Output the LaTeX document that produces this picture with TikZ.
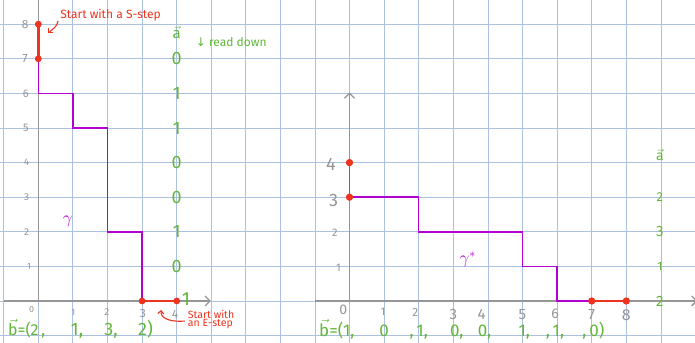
\documentclass[tikz,border=0pt]{standalone}
\usepackage{amsmath}
\usepackage{fontspec}
\setmainfont{Fira Sans}
\newfontfamily\symfont{DejaVu Sans}
\usetikzlibrary{arrows.meta}
\definecolor{gridblue}{RGB}{172,192,224}
\definecolor{axisgray}{RGB}{150,150,150}
\definecolor{pathpurple}{RGB}{178,0,210}
\definecolor{stepred}{RGB}{238,52,32}
\definecolor{labgreen}{RGB}{98,182,58}
\newcommand{\fs}[1]{\fontsize{#1}{#1}\selectfont}
\newcommand{\vecover}[1]{$\vec{\text{#1}}$}
\begin{document}
\begin{tikzpicture}[x=34.6pt,y=34.6pt,
  gridline/.style={gridblue,line width=0.9pt},
  axisline/.style={axisgray,line width=1.3pt},
  axisarrow/.style={axisline,-{Straight Barb[length=5pt,width=10pt,line width=1.3pt]}},
  lattice/.style={pathpurple,line width=1.6pt},
  redstep/.style={stepred,line width=1.6pt},
  dot/.style={circle,fill=stepred,inner sep=0pt,minimum size=7pt},
  ticklab/.style={text=axisgray,inner sep=0pt},
  greenlab/.style={text=labgreen,inner sep=0pt},
  redlab/.style={text=stepred,inner sep=0pt},
  redarrow/.style={stepred,line width=1.1pt,-{Straight Barb[length=3pt,width=6pt]}},
  gammalab/.style={text=pathpurple,inner sep=0pt}]
\useasboundingbox (0,0) rectangle (20.087,9.913);
\fill[white] (0,0) rectangle (20.087,9.913);
% grid paper
\foreach \k in {0,...,19} \draw[gridline] (0.107+\k,0) -- (0.107+\k,9.913);
\foreach \j in {0,...,9} \draw[gridline] (0,0.214+\j) -- (20.087,0.214+\j);

% ---------------- left picture ----------------
\begin{scope}[shift={(1.107,1.214)}]
  \coordinate (Lo) at (0,0);
  \coordinate (Lytop) at (0,8.75);
  \coordinate (Lxs) at (-1.0,0);
  \coordinate (Lxe) at (4.99,0);
  \draw[axisline] (Lo) -- (Lytop);
  \draw[axisarrow] (Lxs) -- (Lxe);
  % y ticks
  \node[ticklab,font=\fs{12}] (ly8) at (-0.38,8) {8};
  \node[ticklab,font=\fs{12}] (ly7) at (-0.38,7) {7};
  \node[ticklab,font=\fs{11}] (ly6) at (-0.36,6) {6};
  \node[ticklab,font=\fs{11}] (ly5) at (-0.36,5) {5};
  \node[ticklab,font=\fs{10}] (ly4) at (-0.34,4) {4};
  \node[ticklab,font=\fs{10}] (ly3) at (-0.34,3) {3};
  \node[ticklab,font=\fs{10}] (ly2) at (-0.34,2) {2};
  \node[ticklab,font=\fs{9}] (ly1) at (-0.27,1.0) {1};
  % x ticks
  \node[ticklab,font=\fs{9}] (lx0) at (-0.19,-0.24) {0};
  \node[ticklab,font=\fs{9}] (lx1) at (1.01,-0.32) {1};
  \node[ticklab,font=\fs{10}] (lx2) at (1.98,-0.32) {2};
  \node[ticklab,font=\fs{12}] (lx3) at (3.02,-0.36) {3};
  \node[ticklab,font=\fs{12}] (lx4) at (3.95,-0.38) {4};
  % dots
  \node[dot,minimum size=6.5pt] (d08) at (0,8) {};
  \node[dot,minimum size=6.5pt] (d07) at (0,7) {};
  \node[dot,minimum size=6.5pt] (d30) at (3,0) {};
  \node[dot,minimum size=6.5pt] (d40) at (4,0) {};
  \coordinate (p16) at (1,6);
  \coordinate (p25) at (2,5);
  \coordinate (p32) at (3,2);
  \draw[lattice] (d07.center) |- (p16) |- (p25) |- (p32) -- (d30.center);
  \draw[redstep,line width=2.6pt] (d07.center) -- (d08.center);
  \draw[redstep,line width=1.4pt] (d30.center) -- (d40.center);
  \node[dot,minimum size=6.5pt] at (d08) {};
  \node[dot,minimum size=6.5pt] at (d07) {};
  \node[dot,minimum size=6.5pt] at (d30) {};
  \node[dot,minimum size=6.5pt] at (d40) {};
  % gamma
  \node[gammalab,font=\fs{17}] (gam) at (0.85,2.3) {$\gamma$};
  % vector a
  \node[greenlab,font=\fs{15}] (la) at (4,7.76) {\vecover{a}};
  \node[greenlab,font=\fs{18}] (la7) at (4,7) {0};
  \node[greenlab,font=\fs{18}] (la6) at (4,6) {1};
  \node[greenlab,font=\fs{18}] (la5) at (4,5) {1};
  \node[greenlab,font=\fs{18}] (la4) at (4,4) {0};
  \node[greenlab,font=\fs{18}] (la3) at (4,3) {0};
  \node[greenlab,font=\fs{18}] (la2) at (4,2) {1};
  \node[greenlab,font=\fs{18}] (la1) at (4,1) {0};
  \node[greenlab,font=\fs{19}] (la0) at (4.27,0.06) {1};
  \node[greenlab,font=\fs{12},anchor=west] (rd) at (4.55,7.47) {{\symfont ↓} read down};
  % vector b
  \node[greenlab,font=\fs{16},anchor=base west] (lb0) at (-0.88,-1.0) {\vecover{b}=(2\,,};
  \node[greenlab,font=\fs{18},anchor=base] (lb1) at (1.12,-1.0) {1,};
  \node[greenlab,font=\fs{18},anchor=base] (lb2) at (2.1,-1.0) {3,};
  \node[greenlab,font=\fs{18},anchor=base] (lb3) at (3.1,-1.0) {2)};
  % notes
  \node[redlab,font=\fs{12},anchor=west] (snote) at (0.63,8.27) {Start with a S-step};
  \draw[redarrow] ([shift={(-2pt,0pt)}]snote.south west) to[out=-100,in=45] ([shift={(10pt,-9pt)}]d08.center);
  \node[redlab,font=\fs{10.5},align=left,anchor=north west,text depth=0pt] (enote) at (4.32,-0.26) {Start with\\[-2pt]an E-step};
  \draw[redarrow] ([shift={(-3pt,6pt)}]enote.south west) to[out=185,in=-95] ([shift={(19pt,-9pt)}]d30.center);
\end{scope}

% ---------------- right picture ----------------
\begin{scope}[shift={(10.101,1.214)}]
  \coordinate (Ro) at (0,0);
  \coordinate (Rytop) at (0,6.03);
  \coordinate (Rxs) at (-1.0,0);
  \coordinate (Rxe) at (10.06,0);
  \draw[axisarrow] (Ro) -- (Rytop);
  \draw[axisarrow] (Rxs) -- (Rxe);
  % y ticks
  \node[ticklab,font=\fs{18}] (ry4) at (-0.54,3.95) {4};
  \node[ticklab,font=\fs{18}] (ry3) at (-0.46,2.9) {3};
  \node[ticklab,font=\fs{11}] (ry2) at (-0.42,1.97) {2};
  \node[ticklab,font=\fs{11}] (ry1) at (-0.32,0.95) {1};
  % x ticks
  \node[ticklab,font=\fs{14}] (rx0) at (-0.18,-0.27) {0};
  \node[ticklab,font=\fs{11}] (rx1) at (0.97,-0.32) {1};
  \node[ticklab,font=\fs{12}] (rx2) at (1.9,-0.34) {2};
  \node[ticklab,font=\fs{15}] (rx3) at (3.0,-0.40) {3};
  \node[ticklab,font=\fs{15}] (rx4) at (3.82,-0.38) {4};
  \node[ticklab,font=\fs{15}] (rx5) at (5.0,-0.40) {5};
  \node[ticklab,font=\fs{14}] (rx6) at (5.94,-0.38) {6};
  \node[ticklab,font=\fs{15}] (rx7) at (7.0,-0.40) {7};
  \node[ticklab,font=\fs{16}] (rx8) at (8.0,-0.42) {8};
  % path
  \node[dot] (e04) at (0,4) {};
  \node[dot] (e03) at (0,3) {};
  \node[dot] (e70) at (7,0) {};
  \node[dot] (e80) at (8,0) {};
  \coordinate (q22) at (2,2);
  \coordinate (q51) at (5,1);
  \coordinate (q60) at (6,0);
  \draw[lattice] (e03.center) -| (q22) -| (q51) -| (q60) -- (e70.center);
  \draw[redstep,line width=1.4pt] (e03.center) -- (e04.center);
  \draw[redstep,line width=1.4pt] (e70.center) -- (e80.center);
  \node[dot] at (e04) {};
  \node[dot] at (e03) {};
  \node[dot] at (e70) {};
  \node[dot] at (e80) {};
  \node[gammalab,font=\fs{17}] (gams) at (3.42,1.2) {$\gamma^{*}$};
  % vector a
  \node[greenlab,font=\fs{14}] (ra) at (8.97,4.22) {\vecover{a}};
  \node[greenlab,font=\fs{13}] (ra3) at (8.97,3) {2};
  \node[greenlab,font=\fs{15}] (ra2) at (8.97,2) {3};
  \node[greenlab,font=\fs{12}] (ra1) at (8.97,1) {1};
  \node[greenlab,font=\fs{15}] (ra0) at (8.97,0) {2};
  % vector b
  \node[greenlab,font=\fs{17},anchor=base west] (rb0) at (-0.88,-1.03) {\vecover{b}=(1,};
  \node[greenlab,font=\fs{17},anchor=base] (rb1) at (1.0,-1.03) {0};
  \node[greenlab,font=\fs{17},anchor=base] (rb2) at (2.0,-1.03) {,\,1,};
  \node[greenlab,font=\fs{17},anchor=base] (rb3) at (3.1,-1.03) {0,};
  \node[greenlab,font=\fs{17},anchor=base] (rb4) at (3.9,-1.03) {0,};
  \node[greenlab,font=\fs{17},anchor=base] (rb5) at (5.05,-1.03) {1,};
  \node[greenlab,font=\fs{17},anchor=base] (rb6) at (5.94,-1.03) {,\,1,};
  \node[greenlab,font=\fs{17},anchor=base] (rb7) at (7.05,-1.03) {,\,0)};
\end{scope}
\end{tikzpicture}
\end{document}
